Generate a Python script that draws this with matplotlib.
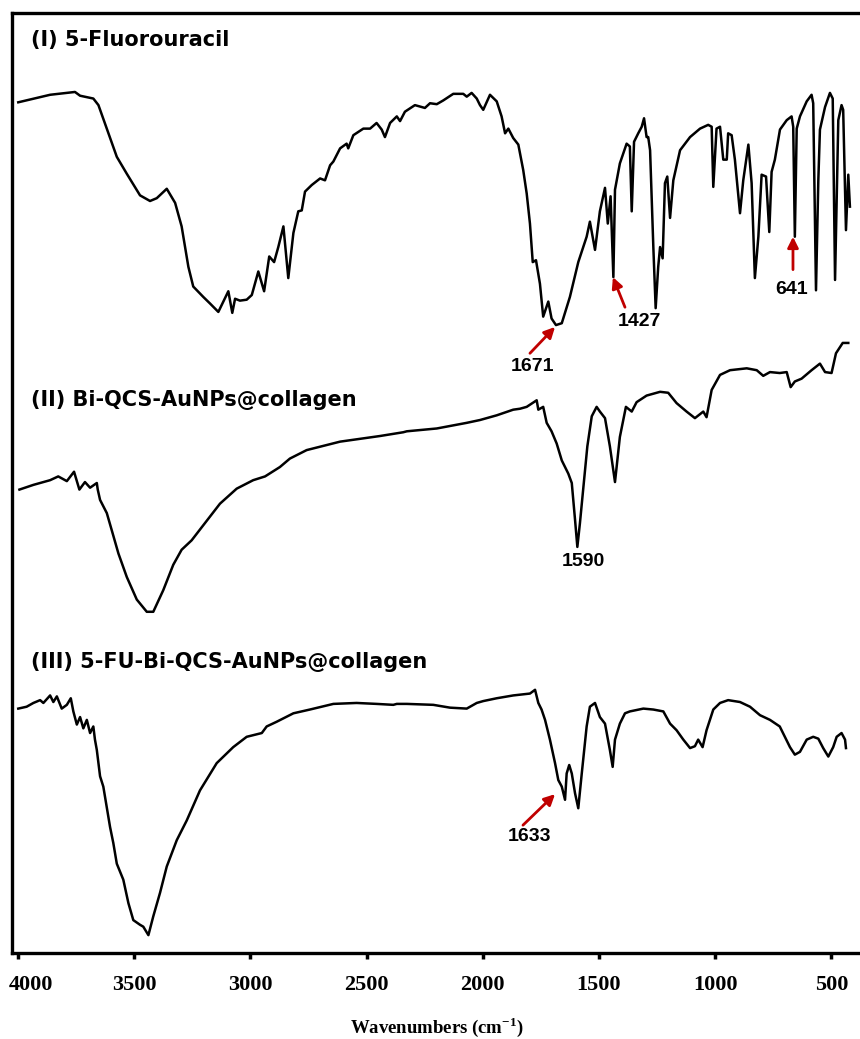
import numpy as np
import matplotlib
matplotlib.use('Agg')
import matplotlib.pyplot as plt
import matplotlib.transforms as mtransforms

plt.rcParams['mathtext.fontset'] = 'custom'
plt.rcParams['mathtext.rm'] = 'Liberation Serif:bold'
plt.rcParams['mathtext.bf'] = 'Liberation Serif:bold'

# (I) 5-Fluorouracil - wavenumber (cm-1) / transmittance (a.u., stacked)
wn_fu = [3999, 3862, 3755, 3733, 3676, 3654, 3618, 3575, 3532, 3475, 3432, 3403, 3360, 3324,
         3296, 3267, 3246, 3203, 3174, 3138, 3095, 3078, 3066, 3045, 3016, 2994, 2966, 2941,
         2919, 2898, 2880, 2858, 2837, 2815, 2794, 2779, 2765, 2736, 2700, 2679, 2657, 2643,
         2614, 2586, 2579, 2557, 2514, 2485, 2457, 2435, 2421, 2399, 2370, 2356, 2335, 2292,
         2249, 2227, 2198, 2170, 2127, 2084, 2069, 2048, 2026, 2012, 1998, 1969, 1940, 1919,
         1904, 1890, 1869, 1847, 1826, 1811, 1797, 1785, 1771, 1754, 1740, 1718, 1704, 1685,
         1660, 1625, 1589, 1553, 1539, 1517, 1496, 1474, 1462, 1450, 1438, 1431, 1410, 1381,
         1367, 1359, 1349, 1331, 1316, 1306, 1295, 1288, 1280, 1266, 1256, 1245, 1237, 1226,
         1216, 1206, 1194, 1180, 1151, 1108, 1065, 1030, 1015, 1008, 994, 979, 965, 950, 944,
         929, 915, 893, 879, 857, 843, 829, 814, 800, 781, 767, 757, 743, 721, 692, 671, 664,
         657, 649, 635, 606, 585, 578, 566, 556, 549, 527, 506, 494, 484, 470, 456, 449, 437,
         427, 420]
t_fu = [90.5, 91.3, 91.6, 91.2, 90.9, 90.2, 87.7, 84.7, 82.9, 80.6, 80.0, 80.3, 81.3, 79.8,
        77.3, 73.0, 70.9, 69.8, 69.1, 68.2, 70.4, 68.1, 69.6, 69.4, 69.5, 70.0, 72.5, 70.4,
        74.1, 73.5, 75.1, 77.3, 71.8, 76.6, 78.9, 79.0, 81.0, 81.7, 82.4, 82.2, 83.8, 84.2,
        85.6, 86.1, 85.6, 87.0, 87.7, 87.7, 88.3, 87.6, 86.8, 88.3, 89.0, 88.5, 89.5, 90.2,
        89.9, 90.4, 90.3, 90.7, 91.4, 91.4, 91.1, 91.5, 90.9, 90.2, 89.7, 91.3, 90.6, 89.0,
        87.2, 87.7, 86.7, 86.0, 83.3, 80.8, 77.6, 73.5, 73.7, 71.2, 67.7, 69.3, 67.5, 66.8,
        67.0, 69.8, 73.5, 76.2, 77.8, 74.8, 78.9, 81.4, 77.6, 80.5, 71.9, 81.2, 84.0, 86.1,
        85.8, 78.9, 86.3, 87.2, 87.9, 88.8, 86.8, 86.8, 85.4, 75.1, 68.6, 73.0, 75.1, 73.9,
        81.9, 82.6, 78.2, 82.2, 85.4, 86.8, 87.7, 88.1, 87.9, 81.5, 87.7, 87.9, 84.4, 84.4, 87.2,
        87.0, 84.4, 78.7, 82.2, 86.0, 81.9, 71.8, 76.2, 82.8, 82.6, 76.7, 83.1, 84.4, 87.6, 88.6,
        89.0, 87.9, 76.2, 87.7, 89.0, 90.6, 91.3, 90.4, 70.5, 82.2, 87.6, 90.0, 91.5, 90.9,
        71.6, 88.6, 90.2, 89.7, 76.9, 82.8, 79.4]

# (II) Bi-QCS-AuNPs@collagen
wn_bi = [3994, 3934, 3862, 3827, 3790, 3759, 3736, 3712, 3690, 3661, 3657, 3647, 3618, 3597,
         3568, 3532, 3489, 3446, 3418, 3375, 3332, 3296, 3253, 3203, 3131, 3059, 2988, 2937,
         2873, 2830, 2758, 2614, 2442, 2342, 2327, 2198, 2069, 2012, 1940, 1869, 1840, 1811,
         1768, 1761, 1740, 1725, 1704, 1682, 1660, 1632, 1617, 1603, 1593, 1582, 1568, 1550,
         1531, 1510, 1496, 1474, 1453, 1431, 1410, 1384, 1359, 1338, 1295, 1237, 1202, 1166,
         1123, 1087, 1051, 1037, 1015, 979, 936, 864, 821, 793, 764, 722, 692, 675, 657, 628,
         585, 549, 527, 499, 480, 451, 427]
t_bi = [49.3, 49.8, 50.3, 50.7, 50.2, 51.2, 49.3, 50.1, 49.5, 50.0, 49.3, 48.2, 46.8, 45.0,
        42.5, 40.0, 37.6, 36.3, 36.3, 38.6, 41.3, 42.9, 43.9, 45.5, 47.8, 49.4, 50.3, 50.7,
        51.7, 52.6, 53.5, 54.4, 55.0, 55.4, 55.5, 55.8, 56.4, 56.7, 57.2, 57.8, 57.9, 58.1,
        58.8, 57.8, 58.1, 56.4, 55.5, 54.2, 52.4, 51.0, 50.0, 46.1, 43.2, 45.7, 49.3, 53.9,
        57.1, 58.1, 57.6, 56.9, 53.9, 50.1, 54.9, 58.1, 57.6, 58.6, 59.3, 59.7, 59.6, 58.5,
        57.6, 56.9, 57.6, 57.0, 59.9, 61.5, 62.0, 62.2, 62.0, 61.4, 61.8, 61.7, 61.8, 60.2,
        60.8, 61.1, 62.0, 62.7, 61.8, 61.7, 63.8, 64.9, 64.9]

# (III) 5-FU-Bi-QCS-AuNPs@collagen
wn_fubi = [3999, 3963, 3934, 3905, 3891, 3862, 3848, 3833, 3812, 3790, 3773, 3762, 3747, 3733,
           3719, 3704, 3690, 3676, 3669, 3661, 3647, 3633, 3604, 3590, 3575, 3547, 3525, 3504,
           3475, 3461, 3439, 3418, 3389, 3360, 3317, 3274, 3217, 3145, 3074, 3016, 2951, 2930,
           2887, 2815, 2744, 2643, 2543, 2457, 2385, 2370, 2327, 2213, 2141, 2069, 2026, 1998,
           1940, 1869, 1797, 1775, 1761, 1747, 1732, 1711, 1689, 1675, 1660, 1646, 1639, 1628,
           1617, 1603, 1589, 1574, 1553, 1539, 1517, 1496, 1474, 1453, 1441, 1431, 1410, 1388,
           1367, 1309, 1266, 1223, 1194, 1166, 1137, 1108, 1087, 1073, 1054, 1037, 1008, 979,
           944, 893, 850, 807, 764, 722, 700, 678, 657, 635, 606, 578, 556, 535, 513, 492, 477,
           456, 441, 437]
t_fubi = [26.0, 26.2, 26.6, 26.9, 26.6, 27.4, 26.7, 27.3, 26.0, 26.4, 27.1, 25.7, 24.3, 25.1,
          23.9, 24.8, 23.4, 24.1, 22.7, 21.6, 18.8, 17.7, 13.4, 11.7, 9.5, 7.8, 5.3, 3.5,
          3.0, 2.8, 1.9, 3.9, 6.4, 9.2, 12.0, 14.1, 17.3, 20.2, 21.9, 23.0, 23.4, 24.1,
          24.6, 25.5, 25.9, 26.5, 26.6, 26.5, 26.4, 26.5, 26.5, 26.4, 26.1, 26.0, 26.6, 26.8,
          27.1, 27.4, 27.6, 28.0, 26.6, 25.9, 24.8, 22.7, 20.2, 18.4, 17.7, 16.3, 19.1, 20.0,
          19.1, 17.0, 15.4, 19.1, 24.1, 26.2, 26.6, 25.1, 24.4, 21.6, 19.8, 22.7, 24.4, 25.5,
          25.7, 26.0, 25.9, 25.7, 24.4, 23.7, 22.7, 21.8, 22.0, 22.7, 21.9, 23.7, 25.9, 26.6,
          26.9, 26.7, 26.2, 25.3, 24.8, 24.1, 23.0, 21.9, 21.1, 21.4, 22.7, 23.0, 22.8, 21.8, 20.9,
          21.9, 23.0, 23.4, 22.7, 21.8]

tytuly = ['(I) 5-Fluorouracil', '(II) Bi-QCS-AuNPs@collagen', '(III) 5-FU-Bi-QCS-AuNPs@collagen']
tytuly_y = [97.1, 58.8, 31.0]

piki = ['1671', '1427', '641', '1590', '1633']
# (tekst x, tekst y, grot x, grot y, ogon x, ogon y) - ogon None = bez strzalki
piki_pos = [(1784, 62.4, 1689, 66.6, 1797, 63.8),
            (1324, 67.2, 1440, 71.9, 1388, 68.7),
            (669, 70.6, 665, 76.2, 665, 72.7),
            (1565, 41.7, None, None, None, None),
            (1797, 12.4, 1689, 16.9, 1827, 13.6)]

fig = plt.figure(figsize=(8.6, 10.39), dpi=100)
ax = fig.add_axes([12 / 860, 86 / 1039, 850 / 860, 940 / 1039])

for x, y in [(wn_fu, t_fu), (wn_bi, t_bi), (wn_fubi, t_fubi)]:
    ax.plot(x, y, color='black', lw=1.8, solid_joinstyle='round')

for tekst, ty in zip(tytuly, tytuly_y):
    ax.text(3945, ty, tekst, ha='left', va='center', fontsize=15,
            fontweight='bold', family='DejaVu Sans')

czerwony = '#C00000'
for tekst, (tx, ty, gx, gy, ox, oy) in zip(piki, piki_pos):
    ax.text(tx, ty, tekst, ha='center', va='center', fontsize=14,
            fontweight='bold', family='Liberation Sans')
    if gx is not None:
        ax.annotate('', xy=(gx, gy), xytext=(ox, oy),
                    arrowprops=dict(arrowstyle='-|>', color=czerwony, lw=2,
                                    mutation_scale=16, shrinkA=0, shrinkB=0))

ax.set_xlim(4026, 368)
ax.set_ylim(0, 100)
ax.set_xticks([4000, 3500, 3000, 2500, 2000, 1500, 1000, 500])
ax.set_yticks([])
ax.tick_params(axis='x', direction='out', length=4, width=2.5, pad=12, labelsize=16)
for lab in ax.get_xticklabels():
    lab.set_fontfamily('Liberation Serif')
    lab.set_fontweight('bold')
    if lab.get_text() == '4000':
        lab.set_horizontalalignment('left')
        lab.set_transform(lab.get_transform() +
                          mtransforms.ScaledTranslation(-0.09, 0, fig.dpi_scale_trans))

for s in ['left', 'top', 'bottom']:
    ax.spines[s].set_linewidth(2.4)
ax.spines['right'].set_visible(False)

ax.set_xlabel('Wavenumbers (cm$^{-1}$)', fontsize=13.5, fontweight='bold',
              family='Liberation Serif', labelpad=14)

fig.savefig('out.png', dpi=100)
